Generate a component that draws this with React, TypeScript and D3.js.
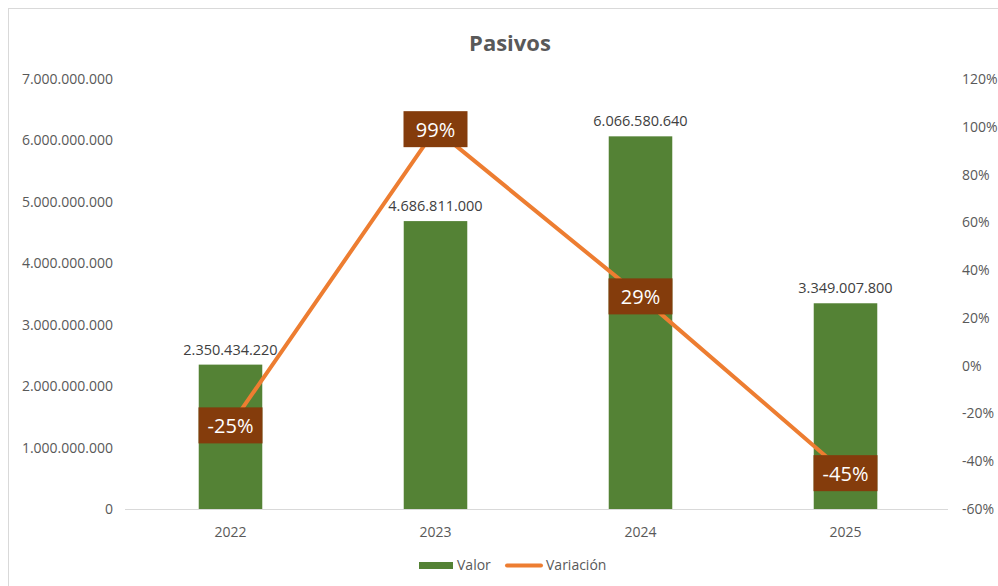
import React from "react";
import * as d3 from "d3";

const categories = ["2022", "2023", "2024", "2025"];
const valor = [2350434220, 4686811000, 6066580640, 3349007800];
const variacion = [-0.25, 0.99, 0.29, -0.45];
const leftTicks = [0, 1e9, 2e9, 3e9, 4e9, 5e9, 6e9, 7e9];
const rightTicks = [-0.6, -0.4, -0.2, 0, 0.2, 0.4, 0.6, 0.8, 1.0, 1.2];

const W = 998, H = 586;
const FONT = "'Open Sans', 'Noto Sans', sans-serif";
const GRAY = "#595959";

const fmtNum = (v: number) => {
  const s = Math.round(v).toString();
  return s.replace(/\B(?=(\d{3})+(?!\d))/g, ".");
};
const fmtPct = (v: number) => `${Math.round(v * 100)}%`;

export default function App() {
  const plot = { left: 128, right: 948, top: 79, bottom: 509 };
  const x = d3.scaleBand().domain(categories).range([plot.left, plot.right]).paddingInner(0.69).paddingOuter(0.345);
  const yL = d3.scaleLinear().domain([0, 7e9]).range([plot.bottom, plot.top]);
  const yR = d3.scaleLinear().domain([-0.6, 1.2]).range([plot.bottom, plot.top]);
  const cx = (c: string) => (x(c) as number) + x.bandwidth() / 2;
  const line = d3.line<number>().x((_, i) => cx(categories[i])).y((d) => yR(d));

  return (
    <div style={{ position: "fixed", left: 0, top: 0, width: W, height: H, overflow: "hidden", background: "#fff" }}>
      <svg width={W} height={H} style={{ display: "block" }}>
        <rect x={8.5} y={8.5} width={W + 10} height={H + 10} fill="#fff" stroke="#D9D9D9" strokeWidth={1} />
        <text x={510} y={51} textAnchor="middle" fontFamily={FONT} fontSize={22} fontWeight="bold" fill={GRAY}>Pasivos</text>
        {leftTicks.map((t) => (
          <text key={t} x={113} y={yL(t) + 5} textAnchor="end" fontFamily={FONT} fontSize={14} fill={GRAY}>{fmtNum(t)}</text>
        ))}
        {rightTicks.map((t) => (
          <text key={t} x={962} y={yR(t) + 5} textAnchor="start" fontFamily={FONT} fontSize={14} fill={GRAY}>{fmtPct(t)}</text>
        ))}
        <line x1={plot.left - 3} x2={plot.right} y1={plot.bottom + 0.5} y2={plot.bottom + 0.5} stroke="#D9D9D9" strokeWidth={1} />
        {categories.map((c, i) => (
          <g key={c}>
            <rect x={x(c)} y={yL(valor[i])} width={x.bandwidth()} height={plot.bottom - yL(valor[i])} fill="#548235" />
            <text x={cx(c)} y={plot.bottom + 28} textAnchor="middle" fontFamily={FONT} fontSize={14} fill={GRAY}>{c}</text>
            <text x={cx(c)} y={yL(valor[i]) - 10} textAnchor="middle" fontFamily={FONT} fontSize={14.5} fill="#404040">{fmtNum(valor[i])}</text>
          </g>
        ))}
        <path d={line(variacion) || ""} fill="none" stroke="#ED7D31" strokeWidth={4} strokeLinecap="round" strokeLinejoin="round" />
        {categories.map((c, i) => (
          <g key={"l" + c}>
            <rect x={cx(c) - 32} y={yR(variacion[i]) - 18} width={64} height={36} fill="#843C0C" />
            <text x={cx(c)} y={yR(variacion[i]) + 8} textAnchor="middle" fontFamily={FONT} fontSize={20} fill="#fff">{fmtPct(variacion[i])}</text>
          </g>
        ))}
        <rect x={419} y={562} width={34} height={7} fill="#548235" />
        <text x={457} y={570} fontFamily={FONT} fontSize={14} fill={GRAY}>Valor</text>
        <line x1={507} x2={541} y1={565.5} y2={565.5} stroke="#ED7D31" strokeWidth={4} strokeLinecap="round" />
        <text x={546} y={570} fontFamily={FONT} fontSize={14} fill={GRAY}>Variación</text>
      </svg>
    </div>
  );
}
